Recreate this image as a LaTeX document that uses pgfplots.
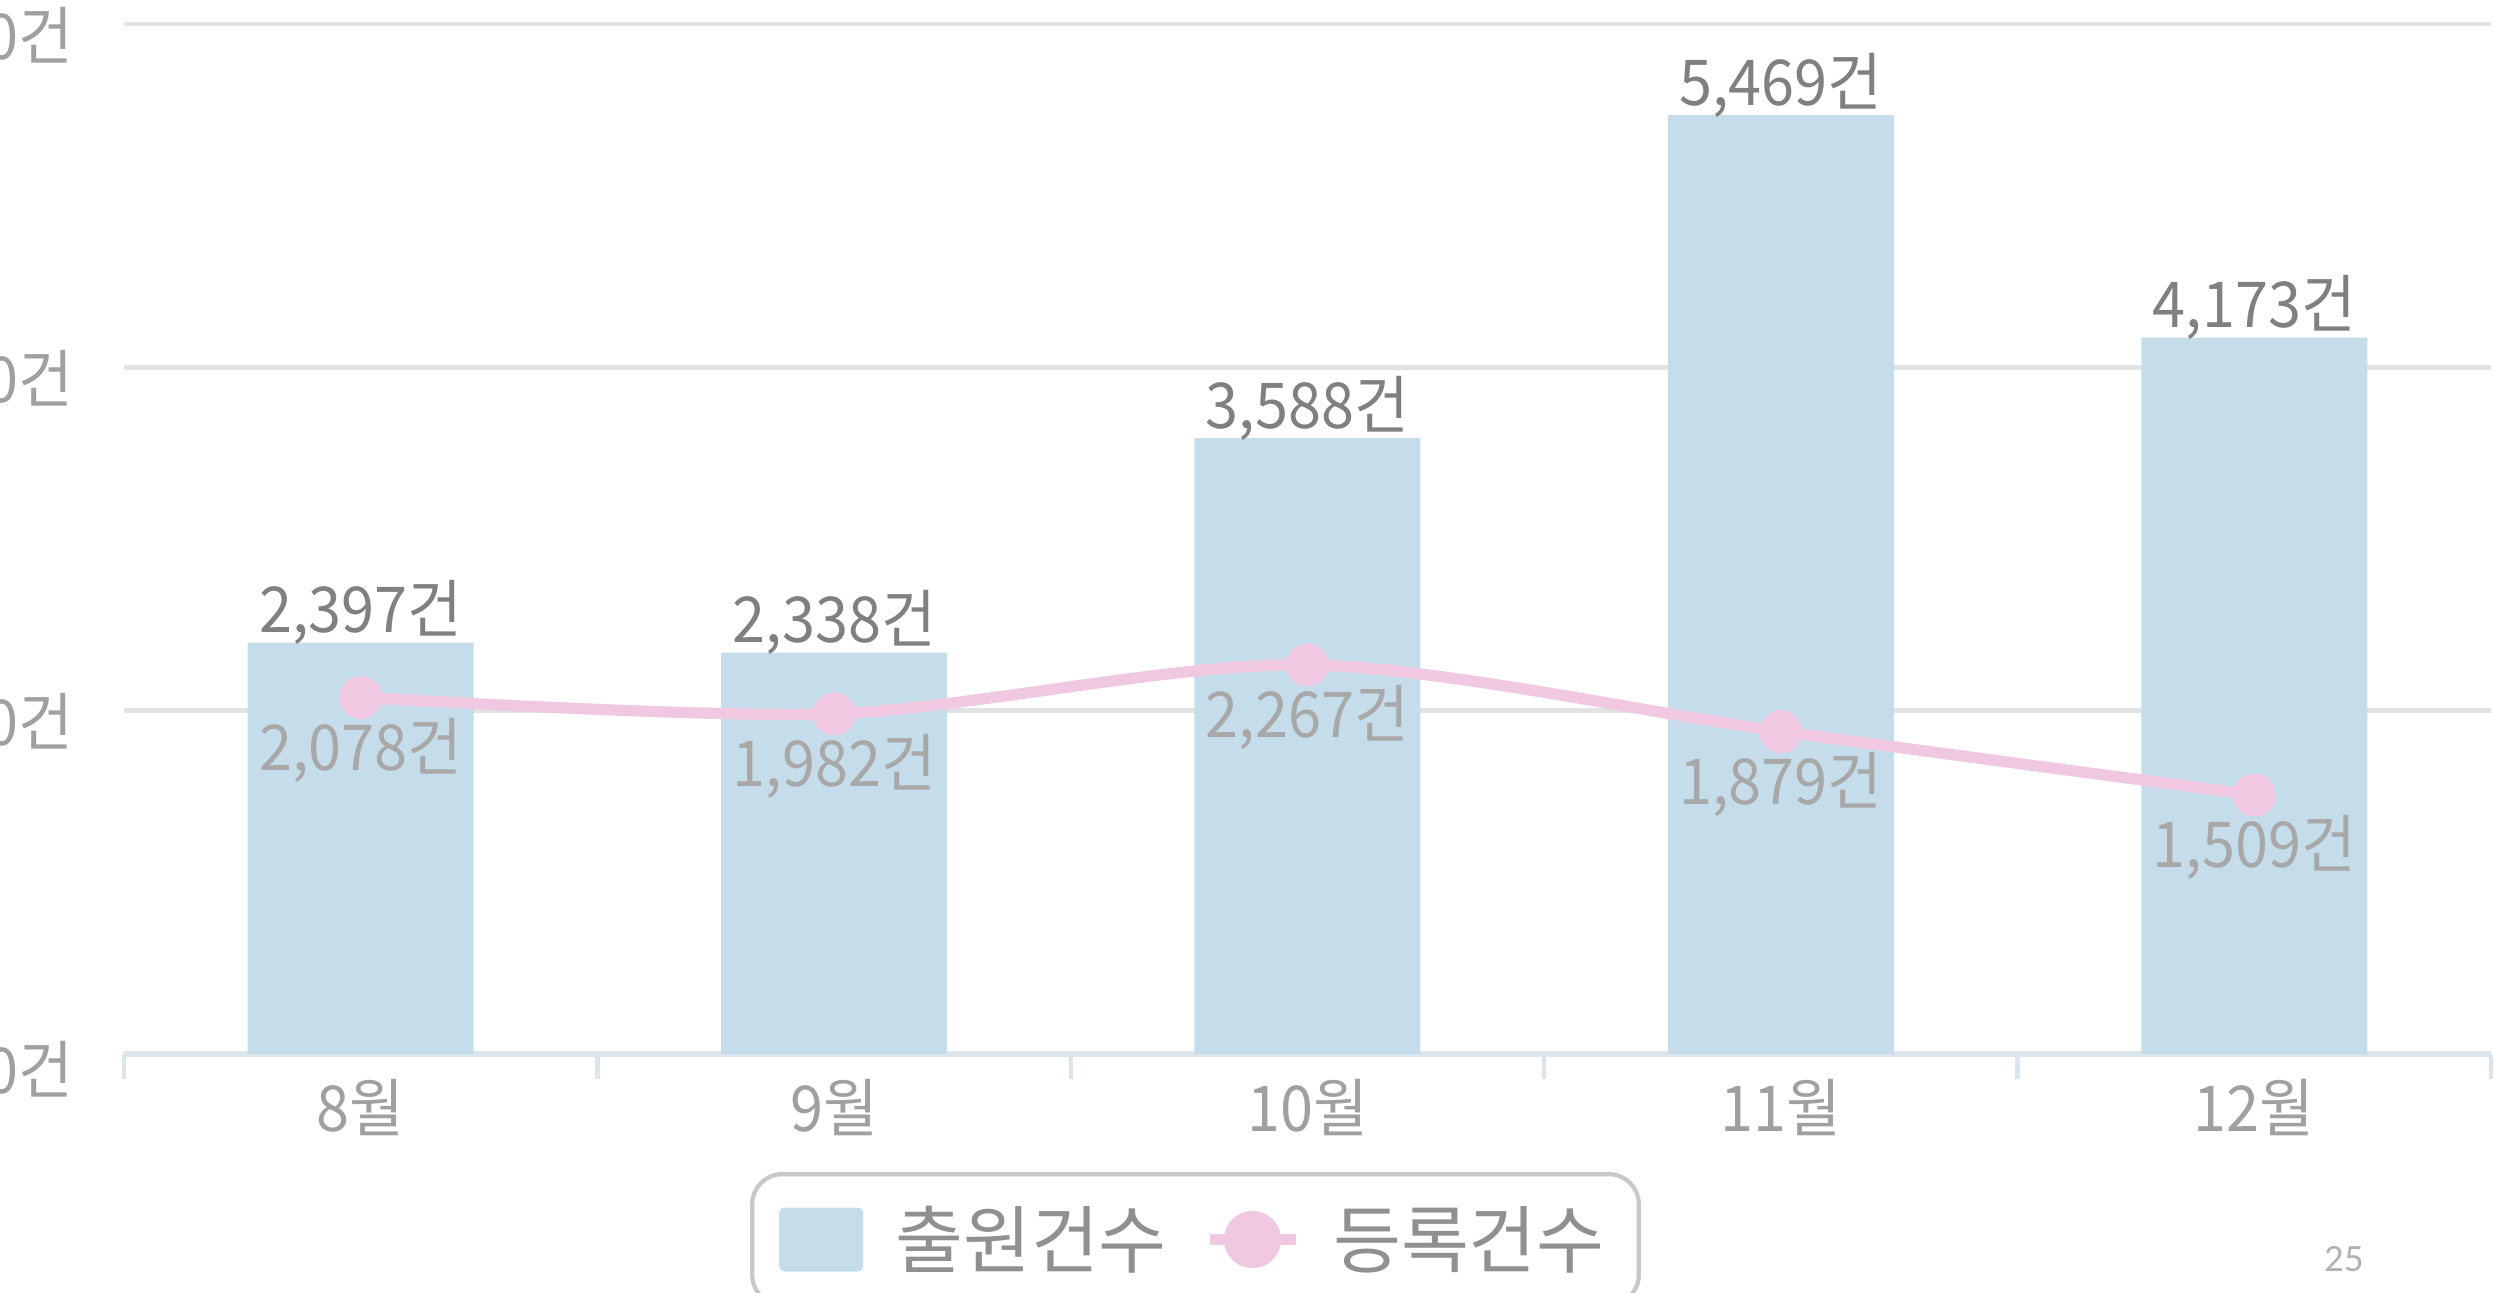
\documentclass[border=0pt]{standalone}
\usepackage{pgfplots}
\pgfplotsset{compat=1.18}
\usepackage{fontspec}
\setmainfont{Noto Sans CJK KR}[FakeStretch=0.94]
\newfontfamily\legfam{Noto Sans CJK KR}
\newfontfamily\pagefont{Carlito}
\definecolor{barblue}{HTML}{C5DDEA}
\definecolor{linepink}{HTML}{F0C8E2}
\definecolor{gridgray}{HTML}{E2E2E2}
\definecolor{axisblue}{HTML}{DCE5EC}
\definecolor{labdark}{HTML}{808080}
\definecolor{lablight}{HTML}{A8A8A8}
\definecolor{ticklab}{HTML}{A0A0A0}
\definecolor{legframe}{HTML}{C8C8C8}
\definecolor{legtext}{HTML}{909090}
\newcommand\lblfont{\fontsize{18pt}{21pt}\selectfont}
\newcommand\legfont{\legfam\fontsize{21pt}{24pt}\selectfont}
\begin{document}
\begin{tikzpicture}
\path[use as bounding box, clip] (-1.24cm,-2.38cm) rectangle (23.69cm,10.54cm);
\begin{axis}[
  at={(0,0)}, anchor=south west,
  scale only axis, width=23.67cm, height=10.30cm,
  xmin=-0.5, xmax=4.5, ymin=0, ymax=6000,
  clip=false,
  axis x line*=bottom, axis y line*=left,
  y axis line style={draw=none},
  x axis line style={draw=axisblue, line width=1.7pt, -},
  xtick={0,1,2,3,4}, xticklabels={8월,9월,10월,11월,12월},
  major tick length=0pt,
  minor xtick={-0.5,0.5,1.5,2.5,3.5,4.5},
  minor x tick style={draw=axisblue, line width=1.2pt},
  minor tick length=0.25cm, tick align=outside,
  ytick={0,2000,4000,6000}, yticklabels={{0건},{2,000건},{4,000건},{6,000건}},
  ymajorgrids, grid style={draw=gridgray, line width=1.4pt},
  xticklabel style={font=\lblfont, text=ticklab, anchor=center, inner sep=0pt, yshift=-0.54cm},
  yticklabel style={font=\lblfont, text=ticklab, anchor=east, inner sep=0pt, xshift=-0.5cm, yshift=-0.15cm},
  legend style={at={(0.4527,-0.1146)}, anchor=north, draw=legframe, line width=1.2pt,
    rounded corners=3mm, font=\legfont, text=legtext, inner xsep=0.27cm, inner ysep=0.25cm},
  legend columns=2,
  legend cell align=left,
  /tikz/every odd column/.append style={column sep=0.25cm},
  /tikz/every even column/.append style={column sep=0.3cm},
]
\addplot[ybar, bar width=2.26cm, fill=barblue, draw=none,
  point meta=explicit symbolic, nodes near coords,
  nodes near coords style={font=\lblfont, text=labdark, anchor=base, inner sep=0pt, yshift=0.1cm},
  legend image code/.code={\fill[barblue, rounded corners=1.5pt] (0cm,-0.32cm) rectangle (0.84cm,0.32cm);}]
coordinates {(0,2397)[2,397건] (1,2338)[2,338건] (2,3588)[3,588건] (3,5469)[5,469건] (4,4173)[4,173건]};
\addlegendentry{출원건수}
\addplot[smooth, linepink, line width=3.2pt, mark=*, mark size=2.1mm,
  mark options={fill=linepink, draw=linepink, line width=0pt},
  point meta=explicit symbolic, nodes near coords,
  nodes near coords style={font=\lblfont, text=lablight, anchor=base, inner sep=0pt, yshift=-0.73cm},
  legend image code/.code={\draw[linepink, line width=3.2pt] (0cm,0cm) -- (0.86cm,0cm); \fill[linepink] (0.43cm,0cm) circle (2.3mm);}]
coordinates {(0,2078)[2,078건] (1,1982)[1,982건] (2,2267)[2,267건] (3,1879)[1,879건] (4,1509)[1,509건]};
\addlegendentry{등록건수}
\node[font=\pagefont\fontsize{11pt}{13pt}\selectfont, text=gray!60] at (rel axis cs:0.938,-0.199) {25};
\end{axis}
\end{tikzpicture}
\end{document}
